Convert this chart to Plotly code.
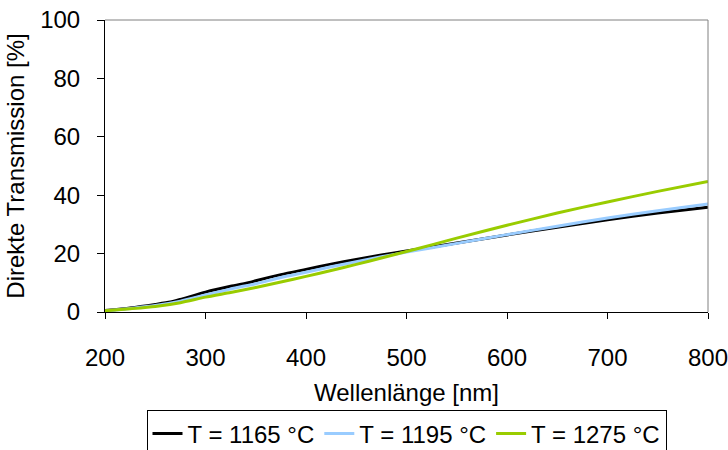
import plotly.graph_objects as go

# Wavelength grid (nm) and direct transmission (%) for three sintering temperatures
wl_1165 = [200, 225, 250, 265, 275, 300, 325, 345, 350, 375, 400, 425, 450, 475, 500,
           550, 600, 650, 700, 750, 800]
tr_1165 = [0.5, 1.4, 2.6, 3.4, 4.3, 6.8, 8.8, 10.2, 10.7, 12.8, 14.6, 16.4, 18.0, 19.5, 20.9,
           23.6, 26.4, 29.0, 31.6, 33.9, 35.9]

wl_1195 = [200, 225, 250, 275, 300, 325, 350, 375, 400, 425, 450, 475, 500,
           550, 600, 650, 700, 750, 800]
tr_1195 = [0.3, 1.2, 2.2, 3.7, 5.8, 7.9, 9.7, 11.8, 13.6, 15.5, 17.2, 18.9, 20.5,
           23.5, 26.5, 29.4, 32.2, 34.7, 37.0]

wl_1275 = [200, 225, 250, 275, 300, 325, 350, 375, 400, 425, 450, 475, 500,
           525, 550, 600, 650, 700, 750, 800]
tr_1275 = [0.4, 1.1, 1.9, 3.2, 5.1, 6.7, 8.4, 10.3, 12.2, 14.2, 16.3, 18.5, 20.7,
           23.0, 25.3, 29.7, 33.9, 37.7, 41.3, 44.7]

series_names = ["T = 1165 °C", "T = 1195 °C", "T = 1275 °C"]
series_colors = ["#000000", "#99CCFF", "#99CC00"]

x_ticks = [200, 300, 400, 500, 600, 700, 800]
y_ticks = [0, 20, 40, 60, 80, 100]

FONT = "Liberation Sans, Arial, sans-serif"

fig = go.Figure()
for wl, tr, name, color in zip(
    [wl_1165, wl_1195, wl_1275],
    [tr_1165, tr_1195, tr_1275],
    series_names,
    series_colors,
):
    fig.add_trace(go.Scatter(
        x=wl, y=tr, name=name, mode="lines",
        line=dict(color=color, width=3, shape="spline", smoothing=0.6),
    ))

fig.update_layout(
    template="none",
    width=728, height=450,
    margin=dict(l=105, r=20, t=20, b=138, autoexpand=False),
    paper_bgcolor="white", plot_bgcolor="white",
    font=dict(family=FONT, size=24, color="black"),
    showlegend=True,
    legend=dict(
        orientation="h", x=0.5, xanchor="center",
        yref="container", y=0.088, yanchor="top",
        bordercolor="black", borderwidth=1, bgcolor="white",
        font=dict(family=FONT, size=24, color="black"),
        itemwidth=30, tracegroupgap=0,
    ),
)

fig.update_xaxes(
    range=[200, 800], tickvals=x_ticks, ticktext=[str(v) for v in x_ticks],
    automargin=False, ticklabeloverflow="allow",
    showgrid=False, zeroline=False,
    showline=True, linecolor="black", linewidth=1,
    ticks="outside", ticklen=6, tickcolor="black", tickwidth=1,
    ticklabelstandoff=18,
    title=dict(text="Wellenlänge [nm]", standoff=14, font=dict(size=24)),
)
fig.update_yaxes(
    range=[0, 100], tickvals=y_ticks, ticktext=[str(v) for v in y_ticks],
    automargin=False, ticklabeloverflow="allow",
    showgrid=False, zeroline=False,
    showline=True, linecolor="black", linewidth=1,
    ticks="outside", ticklen=7, tickcolor="black", tickwidth=1,
    ticklabelstandoff=12,
    title=dict(text="Direkte Transmission [%]", standoff=8, font=dict(size=24)),
)

# Thin grey frame on the top and right edges of the plot area
fig.add_shape(type="line", xref="paper", yref="paper", x0=0, x1=1, y0=1, y1=1,
              line=dict(color="#808080", width=1))
fig.add_shape(type="line", xref="paper", yref="paper", x0=1, x1=1, y0=0, y1=1,
              line=dict(color="#808080", width=1))

fig.write_html("out.html")
